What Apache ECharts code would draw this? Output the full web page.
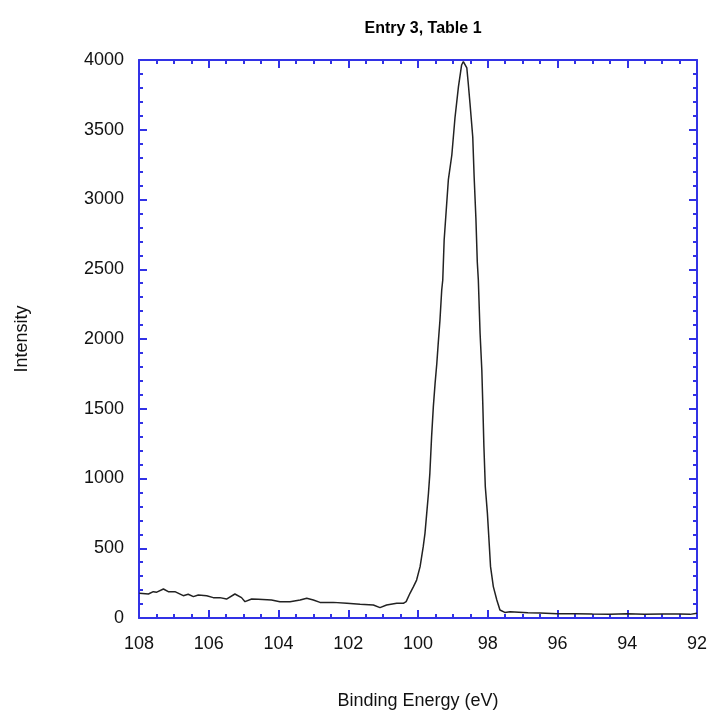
<!DOCTYPE html>
<html>
<head>
<meta charset="utf-8">
<script src="https://cdn.jsdelivr.net/npm/echarts@6/dist/echarts.min.js"></script>
<style>
html,body{margin:0;padding:0;background:#fff;}
#main{width:712px;height:716px;}
</style>
</head>
<body>
<div id="main"></div>
<script>
// binding energy (eV) and intensity
var energy = [107.99,107.73,107.59,107.49,107.30,107.16,106.97,106.73,106.59,106.44,106.30,106.06,
  105.87,105.68,105.49,105.25,105.06,104.96,104.77,104.58,104.20,103.96,103.67,103.38,103.19,103.00,
  102.81,102.43,102.04,101.66,101.28,101.09,100.90,100.61,100.42,100.34,100.23,100.13,100.04,99.94,
  99.85,99.80,99.75,99.70,99.66,99.61,99.56,99.51,99.46,99.42,99.37,99.32,99.29,99.25,99.13,99.03,
  98.94,98.84,98.75,98.70,98.60,98.56,98.51,98.43,98.39,98.34,98.30,98.27,98.22,98.17,98.14,98.11,
  98.07,98.01,97.97,97.92,97.84,97.74,97.65,97.51,97.36,96.85,96.50,96.01,95.50,95.00,94.50,94.00,
  93.50,93.00,92.50,92.20,92.00];
var intensity = [177,172,189,185,208,189,189,160,170,153,165,160,
  146,146,136,172,146,117,136,134,129,117,117,129,141,129,
  112,112,105,98,93,74,93,105,105,117,177,225,272,368,
  511,607,750,894,1037,1300,1515,1682,1826,1969,2136,2351,2423,2710,3140,3319,
  3584,3809,3964,3988,3943,3835,3692,3448,3161,2867,2552,2423,2041,1778,1515,1228,
  941,750,583,368,225,129,57,40,45,38,35,30,30,28,27,31,
  27,29,28,26,34];
var xTicks = [92, 108, 2];
var yTicks = [0, 4000, 500];

var points = energy.map(function (e, i) { return [e, intensity[i]]; });

var blue = '#3232e6';
var font = 'Liberation Sans, Arial';
var chart = echarts.init(document.getElementById('main'));

function xAx(pos, showLabel) {
  return {
    type: 'value', position: pos, inverse: true,
    min: xTicks[0], max: xTicks[1], interval: xTicks[2],
    axisLine: { show: true, onZero: false, lineStyle: { color: blue, width: 2 } },
    axisTick: { show: true, inside: true, length: 8, lineStyle: { color: blue, width: 2 } },
    minorTick: { show: true, splitNumber: 4, length: 4, lineStyle: { color: blue, width: 2 } },
    splitLine: { show: false },
    axisLabel: { show: showLabel, color: '#111', fontSize: 18, margin: 17, fontFamily: font,
      formatter: function (v) { return String(v); } },
    name: showLabel ? 'Binding Energy (eV)' : '',
    nameLocation: 'middle', nameGap: 74,
    nameTextStyle: { color: '#111', fontSize: 18, fontFamily: font }
  };
}
function yAx(pos, showLabel) {
  return {
    type: 'value', position: pos,
    min: yTicks[0], max: yTicks[1], interval: yTicks[2],
    axisLine: { show: true, onZero: false, lineStyle: { color: blue, width: 2 } },
    axisTick: { show: true, inside: true, length: 8, lineStyle: { color: blue, width: 2 } },
    minorTick: { show: true, splitNumber: 5, length: 4, lineStyle: { color: blue, width: 2 } },
    splitLine: { show: false },
    axisLabel: { show: showLabel, color: '#111', fontSize: 18, margin: 15, fontFamily: font,
      formatter: function (v) { return String(v); } },
    name: showLabel ? 'Intensity' : '',
    nameLocation: 'middle', nameGap: 108, nameRotate: 90,
    nameTextStyle: { color: '#111', fontSize: 18, fontFamily: font }
  };
}

chart.setOption({
  animation: false,
  backgroundColor: '#fff',
  title: {
    text: 'Entry 3, Table 1', left: 418, top: 16, textAlign: 'center',
    textStyle: { color: '#000', fontSize: 16, fontWeight: 'bold', fontFamily: font }
  },
  grid: { left: 139, right: 15, top: 60, bottom: 98 },
  xAxis: [xAx('bottom', true), xAx('top', false)],
  yAxis: [yAx('left', true), yAx('right', false)],
  series: [{
    type: 'line', data: points, showSymbol: false, symbol: 'none',
    lineStyle: { color: '#222', width: 1.5 }
  }]
});
</script>
</body>
</html>
